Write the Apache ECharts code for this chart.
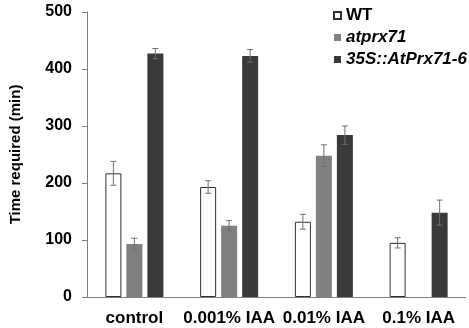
<!DOCTYPE html>
<html><head><meta charset="utf-8">
<script src="https://cdn.jsdelivr.net/npm/echarts@6/dist/echarts.min.js"></script>
<style>html,body{margin:0;padding:0;background:#fff}#c{width:469px;height:328px}</style>
</head><body><div id="c"></div>
<script>
const categories = ['control', '0.001% IAA', '0.01% IAA', '0.1% IAA'];
const seriesNames = ['WT', 'atprx71', '35S::AtPrx71-6'];
const wtValues = [217, 193, 132, 95];
const wtErrors = [21, 11, 13, 9];
const atprxValues = [93, 125, 248, null];
const atprxErrors = [10, 9, 19, null];
const oxValues = [427, 423, 284, 148];
const oxErrors = [9, 11, 16, 22];
const yTicks = [0, 100, 200, 300, 400, 500];

const BAR_W = 16, GAP = 5;
const font = 'Liberation Sans, Arial, sans-serif';
const chart = echarts.init(document.getElementById('c'), null, {renderer: 'canvas'});

function errSeries(vals, errs, slot, name) {
  const data = vals.map((v, i) => v == null ? [i, null, null] : [i, v - errs[i], v + errs[i]]);
  return {
    type: 'custom', name: name + ' err', silent: true, z: 5,
    data: data,
    renderItem: function (params, api) {
      const lo = api.value(1), hi = api.value(2);
      if (lo == null || isNaN(lo)) return null;
      const p1 = api.coord([api.value(0), lo]);
      const p2 = api.coord([api.value(0), hi]);
      const x = p1[0] + (slot - 1) * (BAR_W + GAP);
      const cap = 3;
      const st = {stroke: '#707070', lineWidth: 1};
      return {type: 'group', children: [
        {type: 'line', shape: {x1: x, y1: p1[1], x2: x, y2: p2[1]}, style: st},
        {type: 'line', shape: {x1: x - cap, y1: p1[1], x2: x + cap, y2: p1[1]}, style: st},
        {type: 'line', shape: {x1: x - cap, y1: p2[1], x2: x + cap, y2: p2[1]}, style: st}
      ]};
    },
    encode: {x: 0, y: [1, 2]}
  };
}

chart.setOption({
  animation: false,
  backgroundColor: '#fff',
  grid: {left: 78, right: 3, top: 12, bottom: 31, containLabel: false},
  legend: {
    orient: 'vertical', left: 328, top: 2, itemWidth: 7, itemHeight: 7, itemGap: 5,
    icon: 'rect', data: seriesNames,
    formatter: function (n) { return n === 'WT' ? '{n|' + n + '}' : '{i|' + n + '}'; },
    textStyle: {
      fontFamily: font, fontSize: 17, fontWeight: 'bold', color: '#000',
      rich: {
        n: {fontFamily: font, fontSize: 17, fontWeight: 'bold', color: '#000'},
        i: {fontFamily: font, fontSize: 17, fontWeight: 'bold', fontStyle: 'italic', color: '#000'}
      }
    }
  },
  xAxis: {
    type: 'category', data: categories,
    axisLine: {lineStyle: {color: '#808080', width: 1}},
    axisTick: {show: false},
    axisLabel: {fontFamily: font, fontSize: 17, fontWeight: 'bold', color: '#000', margin: 13, interval: 0}
  },
  yAxis: {
    type: 'value', min: 0, max: 500, interval: 100,
    name: 'Time required (min)', nameLocation: 'middle', nameRotate: 90, nameGap: 64,
    nameTextStyle: {fontFamily: font, fontSize: 15, fontWeight: 'bold', color: '#000'},
    axisLine: {show: true, lineStyle: {color: '#808080', width: 1}},
    axisTick: {show: true, length: 5, lineStyle: {color: '#808080'}},
    splitLine: {show: false},
    axisLabel: {fontFamily: font, fontSize: 16, fontWeight: 'bold', color: '#000', margin: 15,
      formatter: function (v) { return yTicks.indexOf(v) >= 0 ? String(v) : ''; }}
  },
  series: [
    {type: 'bar', name: seriesNames[0], data: wtValues, barWidth: BAR_W, barGap: (GAP / BAR_W * 100) + '%',
     itemStyle: {color: '#ffffff', borderColor: '#303030', borderWidth: 1}},
    {type: 'bar', name: seriesNames[1], data: atprxValues, barWidth: BAR_W, barGap: (GAP / BAR_W * 100) + '%',
     itemStyle: {color: '#808080'}},
    {type: 'bar', name: seriesNames[2], data: oxValues, barWidth: BAR_W, barGap: (GAP / BAR_W * 100) + '%',
     itemStyle: {color: '#3a3a3a'}},
    errSeries(wtValues, wtErrors, 0, 'WT'),
    errSeries(atprxValues, atprxErrors, 1, 'atprx71'),
    errSeries(oxValues, oxErrors, 2, '35S')
  ]
});
</script></body></html>
